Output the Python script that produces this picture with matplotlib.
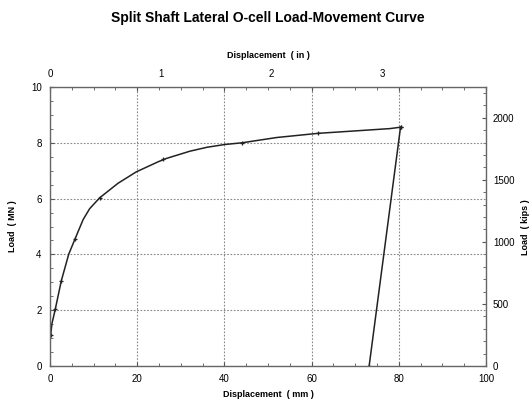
import numpy as np
import matplotlib.pyplot as plt
from matplotlib.ticker import MultipleLocator

plt.rcParams['font.family'] = ['Liberation Sans', 'DejaVu Sans']

# load curve (mm, MN)
curve_mm = [0.15, 0.46, 1.2, 2.6, 4.3, 5.7, 7.6, 9.1, 11.4, 15.6, 19.8, 24.8,
            26.7, 32.1, 36.0, 40.1, 44.0, 52.0, 61.5, 70.3, 78.0, 80.4]
curve_mn = [1.11, 1.53, 2.03, 3.06, 4.01, 4.54, 5.25, 5.64, 6.03, 6.55, 6.96, 7.32,
            7.44, 7.70, 7.84, 7.94, 8.00, 8.19, 8.34, 8.43, 8.51, 8.56]
# measured points (markers)
pts_mm = [0.15, 1.2, 2.6, 5.7, 11.4, 26.0, 44.0, 61.5, 80.4]
pts_mn = [1.11, 2.03, 3.06, 4.54, 6.03, 7.41, 8.00, 8.34, 8.56]
# unloading
unload_mm = [80.4, 73.2]
unload_mn = [8.56, 0.0]

MM_PER_IN = 25.4
KIPS_PER_MN = 224.809

fig = plt.figure(figsize=(5.32, 4.07), dpi=100)
ax = fig.add_axes([0.094, 0.1007, 0.8195, 0.6855])

ax.plot(curve_mm, curve_mn, color='#222222', lw=1.1)
ax.plot(pts_mm, pts_mn, ls='none', color='#222222', marker='+', ms=3.5, mew=0.9)
ax.plot(unload_mm, unload_mn, color='#222222', lw=1.1, marker='+', ms=3.5, mew=0.9)

ax.set_xlim(0, 100)
ax.set_ylim(0, 10)
ax.xaxis.set_major_locator(MultipleLocator(20))
ax.xaxis.set_minor_locator(MultipleLocator(5))
ax.yaxis.set_major_locator(MultipleLocator(2))
ax.yaxis.set_minor_locator(MultipleLocator(0.5))
ax.tick_params(which='both', direction='in', top=True, right=False,
               labelsize=7, color='#555555', pad=6)
ax.tick_params(which='major', length=3)
ax.tick_params(which='minor', length=2)
ax.grid(True, which='major', ls=(0, (1.5, 1.5)), color='#888888', lw=0.8)
for s in ax.spines.values():
    s.set_color('#666666')
    s.set_linewidth(1.0)

ax.set_xlabel('Displacement  ( mm )', fontsize=6.5, fontweight='bold', labelpad=4)
ax.set_ylabel('Load  ( MN )', fontsize=6.5, fontweight='bold', labelpad=10)

top = ax.secondary_xaxis('top', functions=(lambda x: x / MM_PER_IN, lambda x: x * MM_PER_IN))
top.set_xticks([0, 1, 2, 3])
top.tick_params(length=0, labelsize=7, pad=6)
top.set_xlabel('Displacement  ( in )', fontsize=6.5, fontweight='bold', labelpad=8)
top.spines['top'].set_visible(False)

right = ax.secondary_yaxis('right', functions=(lambda y: y * KIPS_PER_MN, lambda y: y / KIPS_PER_MN))
right.set_yticks([0, 500, 1000, 1500, 2000])
right.yaxis.set_minor_locator(MultipleLocator(100))
right.tick_params(which='both', direction='in', labelsize=7, color='#555555', pad=5)
right.tick_params(which='major', length=3)
right.tick_params(which='minor', length=2)
right.spines['right'].set_visible(False)
fig.text(526 / 532, 0.443, 'Load  ( kips )', rotation=90, ha='center', va='center',
         fontsize=6.5, fontweight='bold')

fig.text(0.503, 0.955, 'Split Shaft Lateral O-cell Load-Movement Curve',
         ha='center', va='center', fontsize=10, fontweight='bold')

plt.savefig('out.png', dpi=100)
